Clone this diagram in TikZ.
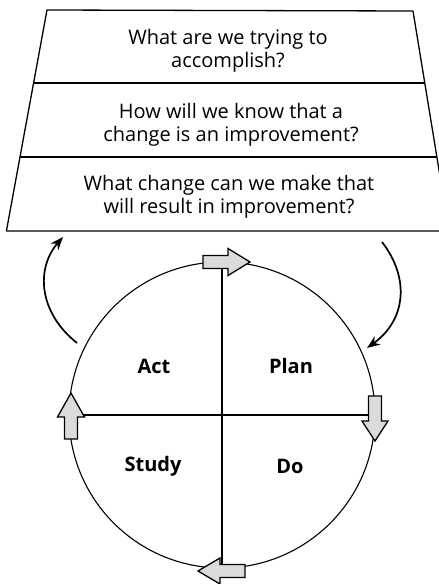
\documentclass[tikz,border=0pt]{standalone}
\usepackage{fontspec}
\setmainfont{Open Sans}
\usetikzlibrary{arrows.meta}
\tikzset{
  frame/.style={line width=1.3pt, line join=round},
  qtext/.style={align=center, font=\fontsize{20}{23.5}\selectfont, inner sep=0pt},
  quad/.style={font=\bfseries\fontsize{20}{22}\selectfont, inner sep=0pt},
  cyc/.style={line width=1.1pt},
  blockarr/.style={draw=black, line width=1.3pt, fill=gray!28, line join=miter},
  turn/.style={line width=1.7pt, -{Stealth[length=13pt,width=10pt]}}
}
\begin{document}
\begin{tikzpicture}[x=1pt,y=-1pt]
\useasboundingbox (0,0) rectangle (439,584);
\clip (0,0) rectangle (439,584);
% trapezoid
\coordinate (tl) at (47,10);
\coordinate (tr) at (413,11);
\coordinate (bl) at (6.4,231);
\coordinate (br) at (449,231);
\coordinate (l1) at (33.6,83);
\coordinate (r1) at (424.8,83);
\coordinate (l2) at (20,157);
\coordinate (r2) at (437,157);
\draw[frame] (tl) -- (tr) -- (br) -- (bl) -- cycle;
\draw[frame] (l1) -- (r1);
\draw[frame] (l2) -- (r2);
\node[qtext] (q1) at (228,51) {What are we trying to\\accomplish?};
\node[qtext] (q2) at (231,125) {How will we know that a\\change is an improvement?};
\node[qtext] (q3) at (229,197) {What change can we make that\\will result in improvement?};
% cycle
\node[circle, draw, cyc, minimum size=306pt, inner sep=0pt] (c) at (222,415) {};
\draw[cyc] (c.north) -- (c.south);
\draw[cyc] (c.west) -- (c.east);
\node[quad] (act) at (154,366) {Act};
\node[quad] (plan) at (291,366) {Plan};
\node[quad] (study) at (153,466) {Study};
\node[quad] (do) at (290,466) {Do};
% block arrows
\draw[blockarr] (203,255.5) -- (228,255.5) -- (228,248.5) -- (250,262) -- (228,275.5) -- (228,268.5) -- (203,268.5) -- cycle;
\draw[blockarr] (64.5,439) -- (64.5,417) -- (57.5,417) -- (71,393) -- (84.5,417) -- (77.5,417) -- (77.5,439) -- cycle;
\draw[blockarr] (368.5,396) -- (368.5,421) -- (362,421) -- (375,441) -- (388,421) -- (381.5,421) -- (381.5,396) -- cycle;
\draw[blockarr] (245,564.5) -- (220,564.5) -- (220,558) -- (198,571) -- (220,584) -- (220,577.5) -- (245,577.5) -- cycle;
% turning arrows
\coordinate (la0) at (77,343);
\coordinate (la1) at (63,237);
\coordinate (ra0) at (382,242);
\coordinate (ra1) at (367,348);
\draw[turn] (la0) .. controls (38,312) and (36,268) .. (la1);
\draw[turn] (ra0) .. controls (410,278) and (406,320) .. (ra1);
\end{tikzpicture}
\end{document}
